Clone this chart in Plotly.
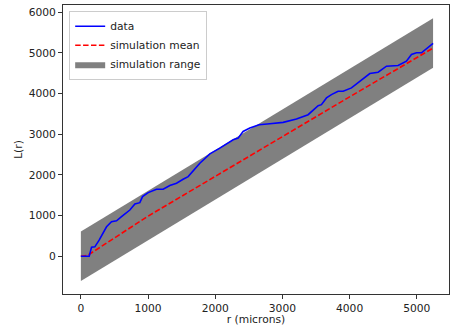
import plotly.graph_objects as go

# Observed data: L(r)
r_data = [0, 124, 159, 208, 272, 382, 456, 531, 605, 655, 729, 804, 878, 918, 1002,
          1126, 1225, 1324, 1424, 1522, 1597, 1771, 1920, 2068, 2267, 2341, 2415, 2515,
          2653, 2813, 3011, 3209, 3383, 3532, 3581, 3656, 3730, 3829, 3904, 4028, 4152,
          4301, 4425, 4549, 4722, 4846, 4921, 4995, 5070, 5144, 5243]
L_data = [0, 0, 222, 230, 395, 724, 848, 872, 971, 1029, 1136, 1284, 1317, 1465, 1564,
          1646, 1646, 1740, 1794, 1893, 1958, 2288, 2519, 2658, 2864, 2905, 3070, 3152,
          3235, 3259, 3292, 3375, 3481, 3704, 3728, 3893, 3975, 4057, 4057, 4140, 4304,
          4494, 4526, 4675, 4691, 4798, 4963, 5004, 5004, 5103, 5235]

# Simulation summary
r_sim = [0, 100, 1000, 2000, 3000, 4000, 5243]
sim_mean = [0, 20, 985, 1965, 2945, 3920, 5120]
sim_upper = [610, 710, 1610, 2610, 3610, 4610, 5852]
sim_lower = [-609, -509, 391, 1391, 2391, 3391, 4634]

x_ticks = [0, 1000, 2000, 3000, 4000, 5000]
y_ticks = [0, 1000, 2000, 3000, 4000, 5000, 6000]

FONT = "DejaVu Sans"

fig = go.Figure()
fig.add_trace(go.Scatter(
    x=r_sim + r_sim[::-1], y=sim_upper + sim_lower[::-1],
    fill="toself", fillcolor="#808080", line=dict(width=0, color="#808080"),
    mode="lines", name="simulation range", legendrank=3, hoverinfo="skip"))
fig.add_trace(go.Scatter(
    x=r_sim, y=sim_mean, mode="lines", name="simulation mean",
    line=dict(color="#ff0000", width=1.6, dash="5.5px,2.4px"), legendrank=2))
fig.add_trace(go.Scatter(
    x=r_data, y=L_data, mode="lines", name="data",
    line=dict(color="#0000ff", width=1.6), legendrank=1))

axis_common = dict(
    showgrid=False, zeroline=False, showline=True, linecolor="#333333", linewidth=1,
    mirror=True, ticks="outside", ticklen=4, tickwidth=1, tickcolor="#333333",
    tickfont=dict(family=FONT, size=10.7, color="#222222"), automargin=False,
)

fig.update_layout(
    width=453, height=326,
    margin=dict(l=63, r=4, t=5, b=32),
    paper_bgcolor="white", plot_bgcolor="white",
    font=dict(family=FONT, size=10.7, color="#222222"),
    showlegend=True,
    legend=dict(
        x=0.016, y=0.98, xanchor="left", yanchor="top",
        bgcolor="rgba(255,255,255,0.8)", bordercolor="#cccccc", borderwidth=1,
        font=dict(family=FONT, size=10.7, color="#222222"),
        tracegroupgap=0, itemwidth=30,
    ),
    xaxis=dict(range=[-266, 5480], tickvals=x_ticks,
               title=dict(text="r (microns)", standoff=0,
                          font=dict(family=FONT, size=10.7, color="#222222")),
               **axis_common),
    yaxis=dict(range=[-930, 6180], tickvals=y_ticks,
               title=dict(text="L(r)", standoff=3,
                          font=dict(family=FONT, size=10.7, color="#222222")),
               **axis_common),
)

fig.write_html("out.html", config={"displayModeBar": False},
               post_script="document.body.style.margin='0';")
